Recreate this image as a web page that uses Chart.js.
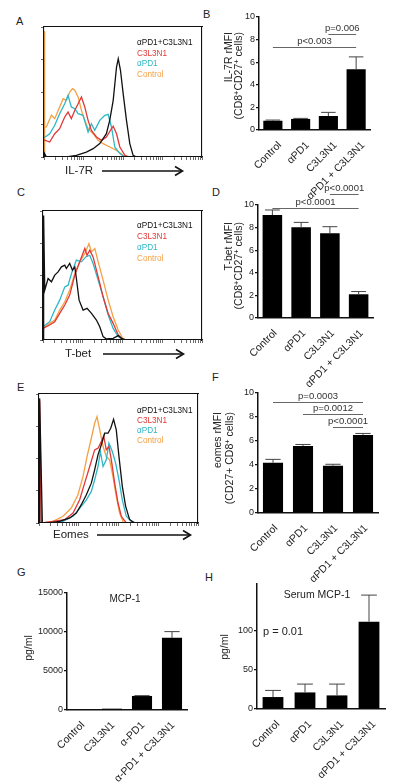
<!DOCTYPE html>
<html>
<head>
<meta charset="utf-8">
<script src="https://cdn.jsdelivr.net/npm/chart.js@4.4.0/dist/chart.umd.min.js"></script>
<style>
  html, body { margin: 0; padding: 0; background: #fff; }
  #fig { position: relative; width: 400px; height: 783px; overflow: hidden;
         font-family: "Liberation Sans", Arial, sans-serif; color: #222; }
  canvas { position: absolute; }
  .letter { position: absolute; font-size: 11px; line-height: 11px; }
  .legend { position: absolute; font-size: 8.2px; white-space: nowrap; }
  .xlab { position: absolute; font-size: 11.5px; line-height: 11.5px; }
  .ytitle { position: absolute; transform-origin: 0 0; transform: rotate(-90deg);
            font-size: 10.5px; white-space: nowrap; text-align: right; }
  .ytitle sup { font-size: 70%; line-height: 0; vertical-align: 3px; }
  .note { position: absolute; text-align: center; white-space: nowrap; }
</style>
</head>
<body>
<div id="fig">
  <!-- panel letters -->
  <div class="letter" style="left:16px;top:15.5px">A</div>
  <div class="letter" style="left:203px;top:8.5px">B</div>
  <div class="letter" style="left:17px;top:186.5px">C</div>
  <div class="letter" style="left:212px;top:186.5px">D</div>
  <div class="letter" style="left:17px;top:381.5px">E</div>
  <div class="letter" style="left:212px;top:371.5px">F</div>
  <div class="letter" style="left:17px;top:566.5px">G</div>
  <div class="letter" style="left:205px;top:571.5px">H</div>

  <canvas id="histA" width="178" height="150" style="left:34px;top:17px"></canvas>
  <canvas id="histC" width="179" height="149" style="left:33px;top:201px"></canvas>
  <canvas id="histE" width="179" height="149" style="left:29px;top:384px"></canvas>

  <canvas id="barB" width="200" height="200" style="left:200px;top:5px"></canvas>
  <canvas id="barD" width="200" height="215" style="left:200px;top:175px"></canvas>
  <canvas id="barF" width="200" height="210" style="left:200px;top:380px"></canvas>
  <canvas id="barG" width="200" height="203" style="left:0px;top:580px"></canvas>
  <canvas id="barH" width="200" height="208" style="left:200px;top:575px"></canvas>

  <!-- histogram legends -->
  <div class="legend" style="left:137px;top:38px;line-height:10.7px">
    <div style="color:#111">αPD1+C3L3N1</div><div style="color:#e03838">C3L3N1</div>
    <div style="color:#2fb6c6">αPD1</div><div style="color:#f4a043">Control</div>
  </div>
  <div class="legend" style="left:137px;top:219.5px;line-height:11px">
    <div style="color:#111">αPD1+C3L3N1</div><div style="color:#e03838">C3L3N1</div>
    <div style="color:#2fb6c6">αPD1</div><div style="color:#f4a043">Control</div>
  </div>
  <div class="legend" style="left:137px;top:406px;line-height:10px">
    <div style="color:#111">αPD1+C3L3N1</div><div style="color:#e03838">C3L3N1</div>
    <div style="color:#2fb6c6">αPD1</div><div style="color:#f4a043">Control</div>
  </div>

  <!-- histogram axis labels -->
  <div class="xlab" style="left:65px;top:165px">IL-7R</div>
  <svg style="position:absolute;left:100px;top:164px" width="86" height="14">
    <line x1="2" y1="7" x2="82" y2="7" stroke="#111" stroke-width="1.6"/>
    <polyline points="75,2.5 82.5,7 75,11.5" fill="none" stroke="#111" stroke-width="1.6"/>
  </svg>
  <div class="xlab" style="left:65px;top:348px">T-bet</div>
  <svg style="position:absolute;left:101px;top:347px" width="86" height="14">
    <line x1="2" y1="7" x2="82" y2="7" stroke="#111" stroke-width="1.6"/>
    <polyline points="75,2.5 82.5,7 75,11.5" fill="none" stroke="#111" stroke-width="1.6"/>
  </svg>
  <div class="xlab" style="left:53px;top:529px">Eomes</div>
  <svg style="position:absolute;left:95px;top:528px" width="100" height="14">
    <line x1="2" y1="7" x2="95" y2="7" stroke="#111" stroke-width="1.6"/>
    <polyline points="88,2.5 95.5,7 88,11.5" fill="none" stroke="#111" stroke-width="1.6"/>
  </svg>

  <!-- bar chart y titles -->
  <div class="ytitle" style="left:223px;top:142px;width:110px;line-height:10px">IL-7R rMFI<br>(CD8<sup>+</sup>CD27<sup>+</sup> cells)</div>
  <div class="ytitle" style="left:224px;top:332px;width:110px;line-height:9.5px">T-bet rMFI<br>(CD8<sup>+</sup>CD27<sup>+</sup> cells)</div>
  <div class="ytitle" style="left:210.7px;top:522px;width:110px;line-height:12px">eomes rMFI<br>(CD27+ CD8<sup>+</sup> cells)</div>
  <div class="ytitle" style="left:23px;top:678px;width:60px;line-height:10px;text-align:center">pg/ml</div>
  <div class="ytitle" style="left:219px;top:677px;width:60px;line-height:10px;text-align:center">pg/ml</div>

  <div class="note" style="left:95px;top:593.5px;width:60px;font-size:10px;line-height:10px">MCP-1</div>
  <div class="note" style="left:267px;top:588.7px;width:100px;font-size:10.5px;line-height:10.5px">Serum MCP-1</div>
  <div class="note" style="left:263px;top:625.5px;font-size:11px;line-height:11px">p = 0.01</div>
</div>

<script>
Chart.defaults.font.family = '"Liberation Sans", Arial, sans-serif';
Chart.defaults.color = "#222";

// histogram curves (x: % of box width, y: % of box height)
const il7rBlack = [[0,0],[0.4,2.6],[1.5,0],[14.2,0],[20.5,1.3],[26.8,3.8],[31.1,6.4],[35.3,10.3],[39.5,17.9],[41.6,28.2],[43.8,43.6],[45.9,69.2],[47,75.6],[48.4,66.7],[50.1,48.7],[52.2,28.2],[54.3,10.3],[56.4,1.3],[58.6,0],[100,0]];
const il7rRed = [[0,13],[0.8,12.8],[3.6,11.5],[6.8,17.9],[9.9,21.8],[13.1,30.8],[15.2,34.6],[17.3,29.5],[19.5,35.9],[21.6,41],[23.7,46.2],[25.8,38.5],[27.9,28.2],[30,20.5],[33.2,15.4],[36.4,12.8],[39.5,15.4],[42.7,21.8],[43.8,23.6],[45.9,17.9],[48,7.7],[51.2,1.3],[54.3,0],[100,0]];
const il7rCyan = [[0,15],[0.8,15.4],[3.6,17.9],[6.8,24.4],[9.9,33.3],[13.1,41],[15.2,47.4],[17.3,38.5],[19.5,37.2],[21.6,33.3],[24.7,32.1],[27.9,19.2],[30,25.6],[32.1,20.5],[35.3,28.2],[38.5,32.1],[40.6,32.8],[42.7,23.1],[44.8,7.7],[48,2.6],[51.2,0],[100,0]];
const il7rOrange = [[0,0],[0.2,97],[0.6,23],[1.5,23.1],[4.7,32.1],[6.8,29.5],[9.9,38.5],[12.1,44.9],[14.2,43.6],[16.3,50],[18,52.6],[19.5,51.3],[21.6,46.2],[23.7,35.9],[25.8,28.2],[27.9,21.8],[31.1,17.9],[34.2,12.8],[37.4,10.3],[41.6,7.7],[45.9,5.1],[50.1,1.3],[52.2,0],[100,0]];

const tbetBlack = [[0.4,0],[0.4,96.6],[1.1,38.7],[3.2,47.7],[5.3,45.1],[7.4,50.3],[9.5,52.8],[11.6,56.7],[13.7,58],[14.7,55.4],[16.8,59.3],[18.5,54.1],[20,56.7],[21,47.7],[22.7,30.9],[25.2,23.2],[27.7,24.5],[30.5,20.6],[33.6,15.5],[35.7,10.3],[37.8,2.6],[39.9,0.8],[44.1,1.3],[47.3,3.4],[49.4,1.3],[52.5,0],[100,0]];
const tbetRed = [[0,9],[4.2,11.6],[7.4,14.2],[10.5,20.6],[13.7,27.1],[16.8,34.8],[20,50.3],[23.1,60.6],[26.3,70.9],[27.7,65.7],[29.4,69.6],[31.5,64.4],[34.7,49],[37.8,33.5],[41,20.6],[44.1,12.9],[47.3,3.9],[50.4,0],[100,0]];
const tbetCyan = [[0,10.3],[4.2,14.2],[7.4,23.2],[10.5,30.9],[13.7,41.2],[15.8,42.5],[17.9,51.5],[21,61.9],[24.2,60.6],[26.9,64.4],[29.4,65.7],[31.5,59.3],[34.7,46.4],[37.8,33.5],[41,19.3],[44.1,9],[47.3,2.6],[50.4,0],[100,0]];
const tbetOrange = [[0,9],[4.2,12.9],[7.4,15.5],[10.5,23.2],[13.7,29.6],[16.8,38.7],[20,51.5],[23.1,60.6],[26.3,67],[28.9,74.7],[30.5,68.3],[32.6,70.9],[34.7,60.6],[37.8,46.4],[41,30.9],[44.1,18],[47.3,7.7],[50.4,0.8],[52.5,0],[100,0]];

const eomesBlack = [[0.4,0],[0.4,96.6],[2.1,0],[6.7,0],[13,1.3],[19.3,3.9],[23.5,7.7],[26.6,14.2],[29.8,21.9],[32.9,30.9],[35,41.2],[37.1,52.8],[39.2,60.6],[41.3,69.6],[43.4,69.6],[45.1,73.5],[46.9,80.4],[48.6,72.2],[50.3,51.5],[52.4,28.4],[54.5,12.9],[57,2.6],[60.2,0],[100,0]];
const eomesRed = [[0.4,0],[0.4,95],[1.5,0],[8.8,1.3],[16.1,2.6],[21.4,7.7],[25.6,18],[28.7,30.9],[31.9,43.8],[35,56.7],[37.1,58],[39.2,63.1],[40.7,67.5],[42.3,56.7],[44,59.3],[45.5,49],[47.6,30.9],[49.7,15.5],[51.8,5.2],[54.9,0],[100,0]];
const eomesCyan = [[0,0],[6.7,0],[15.1,1.3],[21.4,5.2],[26.6,12.9],[29.8,18],[32.9,24.5],[35,33.5],[37.1,43.8],[38.6,55.4],[40.3,43.8],[42.3,49],[44,61.9],[46.1,55.4],[48.2,46.4],[50.3,33.5],[52.4,18],[54.9,5.2],[58.1,1.3],[61.2,0],[100,0]];
const eomesOrange = [[0,0],[2.5,0],[8.8,1.3],[15.1,5.2],[20.3,11.6],[24.5,21.9],[27.7,36.1],[30.2,51.5],[32.9,65.7],[35,77.3],[36.5,82.5],[38.2,72.2],[40.3,59.3],[42.3,51.5],[44.4,49],[46.5,36.1],[48.6,20.6],[50.7,7.7],[53.2,0],[100,0]];

// bar charts: means, SEM, significance bars
const groups = ["Control", "αPD1", "C3L3N1", "αPD1 + C3L3N1"];
const groupsG = ["Control", "C3L3N1", "α-PD1", "α-PD1 + C3L3N1"];

const il7rMean = [0.82, 0.98, 1.24, 5.38];
const il7rSem = [0.06, 0.05, 0.32, 1.09];
const il7rSig = [
  { from: 2, to: 3, at: 8.53, text: "p=0.006" },
  { from: 0, to: 3, at: 7.35, text: "p<0.003" },
];

const tbetMean = [9.11, 8.02, 7.49, 2.10];
const tbetSem = [0.45, 0.44, 0.59, 0.24];
const tbetSig = [
  { from: 2, to: 3, at: 10.97, text: "p<0.0001" },
  { from: 0, to: 3, at: 9.7, text: "p<0.0001" },
];

const eomesMean = [4.19, 5.59, 3.94, 6.51];
const eomesSem = [0.28, 0.12, 0.12, 0.12];
const eomesSig = [
  { from: 0, to: 3, at: 9.25, text: "p=0.0003" },
  { from: 1, to: 3, at: 8.24, text: "p=0.0012" },
  { from: 2, to: 3, at: 7.2, text: "p<0.0001" },
];

const mcpMean = [80, 170, 1800, 9250];
const mcpSem = [0, 0, 40, 800];

const serumMean = [15.3, 21.2, 17.4, 111.8];
const serumSem = [8.5, 10.7, 14.5, 34];

const histColors = { black: "#111", red: "#e03838", cyan: "#2fb6c6", orange: "#f4a043" };

// log-style minor tick positions along the histogram x axis
const histTicks = [];
for (let d = 0; d < 4; d++) {
  for (let k = 1; k <= 9; k++) histTicks.push(d * 25 + 25 * Math.log10(k));
}
histTicks.push(100);

function fixed(size, horizontal) {
  return horizontal ? (s) => { s.height = size; } : (s) => { s.width = size; };
}

function histChart(id, curves) {
  new Chart(document.getElementById(id), {
    type: "line",
    data: {
      datasets: curves.map(([pts, color]) => ({
        data: pts.map(([x, y]) => ({ x, y })),
        borderColor: color,
        borderWidth: 1.3,
        pointRadius: 0,
        tension: 0,
        fill: false,
      })),
    },
    options: {
      responsive: false,
      animation: false,
      events: [],
      layout: { autoPadding: false, padding: 0 },
      plugins: { legend: { display: false }, tooltip: { enabled: false } },
      scales: {
        x: {
          type: "linear", min: 0, max: 100, position: "bottom",
          afterFit: fixed(10, true),
          afterBuildTicks: (s) => { s.ticks = histTicks.map((v) => ({ value: v })); },
          ticks: { display: false },
          grid: { drawOnChartArea: false, tickLength: 3, color: "#444", lineWidth: 0.8 },
          border: { color: "#111", width: 1.1, z: 1 },
        },
        y: {
          type: "linear", min: 0, max: 100,
          afterFit: fixed(10, false),
          afterBuildTicks: (s) => { s.ticks = [0, 25, 50, 75, 100].map((v) => ({ value: v })); },
          ticks: { display: false },
          grid: { drawOnChartArea: false, tickLength: 3, color: "#444", lineWidth: 0.8 },
          border: { color: "#111", width: 1.1, z: 1 },
        },
        x2: {
          type: "linear", position: "top", display: true,
          afterFit: fixed(10, true),
          ticks: { display: false }, grid: { display: false },
          border: { color: "#111", width: 1.1, z: 1 },
        },
        y2: {
          type: "linear", position: "right", display: true,
          afterFit: fixed(10, false),
          ticks: { display: false }, grid: { display: false },
          border: { color: "#111", width: 1.1, z: 1 },
        },
      },
    },
  });
}

// error bars and significance brackets, placed through the chart's scales
const marksPlugin = {
  id: "marks",
  afterDatasetsDraw(chart, args, opts) {
    const { ctx, scales: { x, y } } = chart;
    const meta = chart.getDatasetMeta(0);
    ctx.save();
    ctx.strokeStyle = "#444";
    ctx.lineWidth = 1;
    opts.mean.forEach((m, i) => {
      if (!opts.sem[i]) return;
      const bar = meta.data[i];
      const top = y.getPixelForValue(m + opts.sem[i]);
      const half = bar.width * 0.38;
      ctx.beginPath();
      ctx.moveTo(bar.x, bar.y);
      ctx.lineTo(bar.x, top);
      ctx.moveTo(bar.x - half, top);
      ctx.lineTo(bar.x + half, top);
      ctx.stroke();
    });
    (opts.sig || []).forEach((s) => {
      const yy = Math.round(y.getPixelForValue(s.at)) + 0.5;
      const x0 = x.getPixelForValue(s.from);
      const x1 = x.getPixelForValue(s.to);
      ctx.strokeStyle = "#666";
      ctx.beginPath();
      ctx.moveTo(x0, yy);
      ctx.lineTo(x1, yy);
      ctx.stroke();
      ctx.fillStyle = "#333";
      ctx.font = '9.5px "Liberation Sans", Arial, sans-serif';
      ctx.textAlign = "center";
      ctx.textBaseline = "bottom";
      ctx.fillText(s.text, (x0 + x1) / 2, yy - 1.5);
    });
    ctx.restore();
  },
};

function barChart(id, c) {
  new Chart(document.getElementById(id), {
    type: "bar",
    data: {
      labels: c.labels,
      datasets: [{
        data: c.mean,
        backgroundColor: "#000",
        borderWidth: 0,
        barPercentage: c.bp,
        categoryPercentage: 1,
      }],
    },
    options: {
      responsive: false,
      animation: false,
      events: [],
      layout: { autoPadding: false, padding: c.pad },
      plugins: {
        legend: { display: false },
        tooltip: { enabled: false },
        marks: { mean: c.mean, sem: c.sem, sig: c.sig },
      },
      scales: {
        x: {
          afterFit: fixed(c.xh, true),
          ticks: { minRotation: 45, maxRotation: 45, autoSkip: false, padding: 1,
                   labelOffset: c.lo, font: { size: 10.5 }, color: "#222" },
          grid: { display: false },
          border: { color: "#111", width: 1.5 },
        },
        y: {
          min: 0, max: c.max,
          afterFit: fixed(c.yw, false),
          afterBuildTicks: (s) => { s.ticks = s.ticks.filter((t) => t.value % c.step === 0); },
          ticks: { stepSize: c.step, padding: 1, font: { size: 9 }, color: "#222",
                   callback: (v) => String(v) },
          grid: { drawOnChartArea: false, tickLength: 3, color: "#111", lineWidth: 1.2 },
          border: { color: "#111", width: 1.5 },
        },
      },
    },
    plugins: [marksPlugin],
  });
}

histChart("histA", [[il7rBlack, histColors.black], [il7rRed, histColors.red], [il7rCyan, histColors.cyan], [il7rOrange, histColors.orange]]);
histChart("histC", [[tbetBlack, histColors.black], [tbetRed, histColors.red], [tbetCyan, histColors.cyan], [tbetOrange, histColors.orange]]);
histChart("histE", [[eomesBlack, histColors.black], [eomesRed, histColors.red], [eomesCyan, histColors.cyan], [eomesOrange, histColors.orange]]);

barChart("barB", { labels: groups, mean: il7rMean, sem: il7rSem, sig: il7rSig, max: 10, step: 2,
  bp: 0.69, lo: 7, pad: { top: 12, right: 30, left: 0, bottom: 0 }, yw: 59, xh: 75 });
barChart("barD", { labels: groups, mean: tbetMean, sem: tbetSem, sig: tbetSig, max: 10, step: 2,
  bp: 0.68, lo: 3, pad: { top: 30, right: 27, left: 0, bottom: 0 }, yw: 58, xh: 72 });
barChart("barF", { labels: groups, mean: eomesMean, sem: eomesSem, sig: eomesSig, max: 10, step: 2,
  bp: 0.67, lo: 3, pad: { top: 13, right: 22, left: 0, bottom: 0 }, yw: 58, xh: 77 });
barChart("barG", { labels: groupsG, mean: mcpMean, sem: mcpSem, max: 15000, step: 5000,
  bp: 0.67, lo: 1, pad: { top: 13, right: 13, left: 0, bottom: 0 }, yw: 67, xh: 73 });
barChart("barH", { labels: groups, mean: serumMean, sem: serumSem, max: 160, step: 50,
  bp: 0.65, lo: 5, pad: { top: 9, right: 15, left: 0, bottom: 0 }, yw: 57, xh: 74 });
</script>
</body>
</html>
